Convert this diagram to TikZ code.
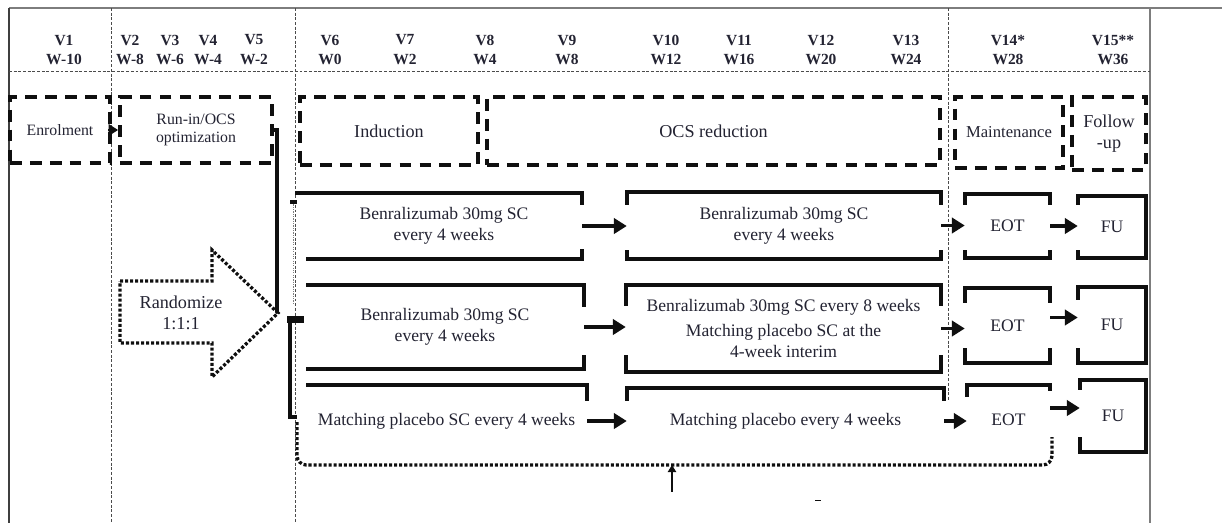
\documentclass[tikz,border=0pt]{standalone}
\usepackage{fontspec}
\setmainfont{Liberation Serif}
\usetikzlibrary{arrows.meta,calc}
\definecolor{gridgray}{RGB}{125,125,125}
\definecolor{inkC}{RGB}{15,15,15}
\definecolor{textC}{RGB}{35,35,50}

\tikzset{
  visit/.style={font=\fontsize{13.2}{17}\selectfont\bfseries, text=textC, align=center, inner sep=0pt},
  phasebox/.style={draw=inkC, line width=3.4pt, dash pattern=on 10pt off 7pt, inner sep=0pt, align=center, text=textC},
  armbox/.style={inner sep=0pt, align=center, text=textC, font=\fontsize{15}{18}\selectfont},
  armline/.style={inkC, line width=3.2pt},
  steparrow/.style={inkC, line width=2.8pt, -{Triangle[length=11pt,width=13pt]}},
  gridsep/.style={inkC!75, line width=0.7pt, dash pattern=on 2.5pt off 1.5pt},
  dotline/.style={inkC, line width=2.8pt, dash pattern=on 2.6pt off 1.7pt},
}

\begin{document}
\begin{tikzpicture}[x=0.03cm, y=-0.03cm]
\useasboundingbox (0,0) rectangle (1222,523);

% table frame
\draw[gridgray, line width=0.9pt] (9,8) -- (1222,8);
\draw[inkC!80, line width=0.9pt] (9,8) -- (9,523);
\draw[gridgray, line width=0.9pt] (1150,8) -- (1150,523);
\draw[gridsep] (9,71) -- (1150,71);
\draw[gridsep] (111,8) -- (111,523);
\draw[gridsep] (295,8) -- (295,523);
\draw[gridsep] (948,8) -- (948,400);

% visit header
\foreach \x/\v/\w [count=\i] in {64/V1/W-10, 130/V2/W-8, 170/V3/W-6, 208/V4/W-4, 254/V5/W-2,
    330/V6/W0, 405/V7/W2, 485/V8/W4, 567/V9/W8, 666/V10/W12, 739/V11/W16,
    821/V12/W20, 906/V13/W24, 1008/V14*/W28, 1113/V15**/W36}
  \node[visit] (v\i) at (\x,50) {\v\\\w};

% study phases
\node[phasebox, minimum width=3cm, minimum height=1.98cm, font=\fontsize{13.5}{16}\selectfont] (enrol) at (60,130) {Enrolment};
\node[phasebox, minimum width=4.56cm, minimum height=1.98cm, font=\fontsize{13.5}{16}\selectfont] (runin) at (196,130) {Run-in/OCS\\optimization};
\node[phasebox, minimum width=5.34cm, minimum height=2.04cm, font=\fontsize{15.5}{18}\selectfont] (induct) at (389,131) {Induction};
\node[phasebox, minimum width=13.59cm, minimum height=2.04cm, font=\fontsize{15.5}{18}\selectfont] (ocsred) at (713.5,131) {OCS reduction};
\node[phasebox, minimum width=3.24cm, minimum height=2.13cm, font=\fontsize{14.2}{17}\selectfont] (maint) at (1009,132.5) {Maintenance};
\node[phasebox, minimum width=2.22cm, minimum height=2.19cm, font=\fontsize{15.5}{18}\selectfont] (follow) at (1109,133.5) {Follow\\-up};
\draw[inkC, line width=1pt, -{Triangle[length=8pt,width=10pt]}] ([xshift=-3pt]enrol.east) -- (runin.west);

% randomisation
\draw[dotline] (120,281) -- (212,281) -- (212,250) -- (278,313) -- (212,377) -- (212,343) -- (120,343) -- cycle;
\node[armbox, font=\fontsize{15.5}{18}\selectfont] (rand) at (181,313) {Randomize\\1:1:1};

% split into arms
\draw[armline] (272,130) -- (277,130) -- (277,312);
\draw[gridgray, line width=0.8pt, dash pattern=on 1pt off 1pt] (293,202) -- (293,305);
\draw[armline] (290,202) -- (297,202);
\fill[inkC] (287,316) rectangle (304,323);
\draw[armline] (290,323) -- (290,417) -- (297,417);

% arms
\node[armbox, minimum width=8.28cm, minimum height=1.98cm] (a1) at (444,226) {Benralizumab 30mg SC\\every 4 weeks};
\node[armbox, minimum width=8.34cm, minimum height=2.52cm] (a2) at (445,327) {Benralizumab 30mg SC\\every 4 weeks};
\node[armbox, minimum width=8.43cm, minimum height=2.16cm] (a3) at (446.5,421) {Matching placebo SC every 4 weeks};
\node[armbox, minimum width=9.42cm, minimum height=2.01cm] (b1) at (784,225.5) {Benralizumab 30mg SC\\every 4 weeks};
\node[armbox, minimum width=9.45cm, minimum height=2.61cm] (b2) at (783.5,328.5) {Benralizumab 30mg SC every 8 weeks\\[3pt]Matching placebo SC at the\\4-week interim};
\node[armbox, minimum width=9.51cm, minimum height=1.98cm] (b3) at (785.5,421) {Matching placebo every 4 weeks};
\node[armbox, minimum width=2.55cm, minimum height=1.92cm] (eot1) at (1007.5,226) {EOT};
\node[armbox, minimum width=2.55cm, minimum height=2.25cm] (eot2) at (1007.5,325.5) {EOT};
\node[armbox, minimum width=2.49cm, minimum height=2.1cm] (eot3) at (1008.5,420) {EOT};
\node[armbox, minimum width=2.04cm, minimum height=1.86cm] (fu1) at (1112,227) {FU};
\node[armbox, minimum width=2.04cm, minimum height=2.28cm] (fu2) at (1112,325) {FU};
\node[armbox, minimum width=1.98cm, minimum height=2.16cm] (fu3) at (1113,416) {FU};

% open box outlines
\draw[armline] ($(a1.north east)+(0,12)$) -- (a1.north east) -- ($(a1.north west)+(-11,0)$);
\draw[armline] ($(a1.south east)+(0,-10)$) -- (a1.south east) -- (a1.south west);
\draw[armline] ($(a2.north east)+(0,22)$) -- (a2.north east) -- (a2.north west);
\draw[armline] ($(a2.south east)+(0,-14)$) -- (a2.south east) -- (a2.south west);
\draw[armline] ($(a3.north east)+(0,16)$) -- (a3.north east) -- (a3.north west);
\foreach \b/\t/\s in {b1/13/9, b2/21/17, eot1/11/8, eot2/15/15} {
  \draw[armline] ($(\b.north west)+(0,\t)$) -- (\b.north west) -- (\b.north east) -- ++(0,\t);
  \draw[armline] ($(\b.south west)+(0,-\s)$) -- (\b.south west) -- (\b.south east) -- ++(0,-\s);
}
\draw[armline] ($(b3.north west)+(0,13)$) -- (b3.north west) -- (b3.north east) -- ++(0,13);
\draw[armline] ($(eot3.north west)+(0,12)$) -- (eot3.north west) -- (eot3.north east) -- ++(0,6);
\foreach \b/\t/\s in {fu1/9/8, fu2/13/15, fu3/10/15}
  \draw[armline] ($(\b.north west)+(0,\t)$) -- (\b.north west) -- (\b.north east) -- (\b.south east) -- (\b.south west) -- ++(0,-\s);

% arrows between periods
\draw[steparrow] (a1.east) -- (a1.east -| b1.west);
\draw[steparrow] (a2.east) -- (a2.east -| b2.west);
\draw[steparrow] (a3.east) -- (a3.east -| b3.west);
\draw[steparrow] (b1.east) -- (b1.east -| eot1.west);
\draw[steparrow] (b2.east) -- (b2.east -| eot2.west);
\draw[steparrow] (b3.east) -- (b3.east -| eot3.west);
\draw[steparrow] (eot1.east) -- (eot1.east -| fu1.west);
\draw[steparrow] ($(eot2.east)+(0,-8)$) -- ($(eot2.east -| fu2.west)+(0,-8)$);
\draw[steparrow] ($(eot3.east)+(0,-12)$) -- ($(eot3.east -| fu3.west)+(0,-12)$);

% bracket under arms
\draw[dotline, rounded corners=8pt] (297,422) -- (297,465) -- (1052,465) -- (1052,437);
\coordinate (brmid) at (672,465);
\coordinate (brtip) at (672,492);
\draw[inkC, line width=2.4pt, {Triangle[length=6pt,width=7pt]}-] (brmid) -- (brtip);
\draw[inkC, line width=0.8pt] (815,500) -- (821,500);
\end{tikzpicture}
\end{document}
